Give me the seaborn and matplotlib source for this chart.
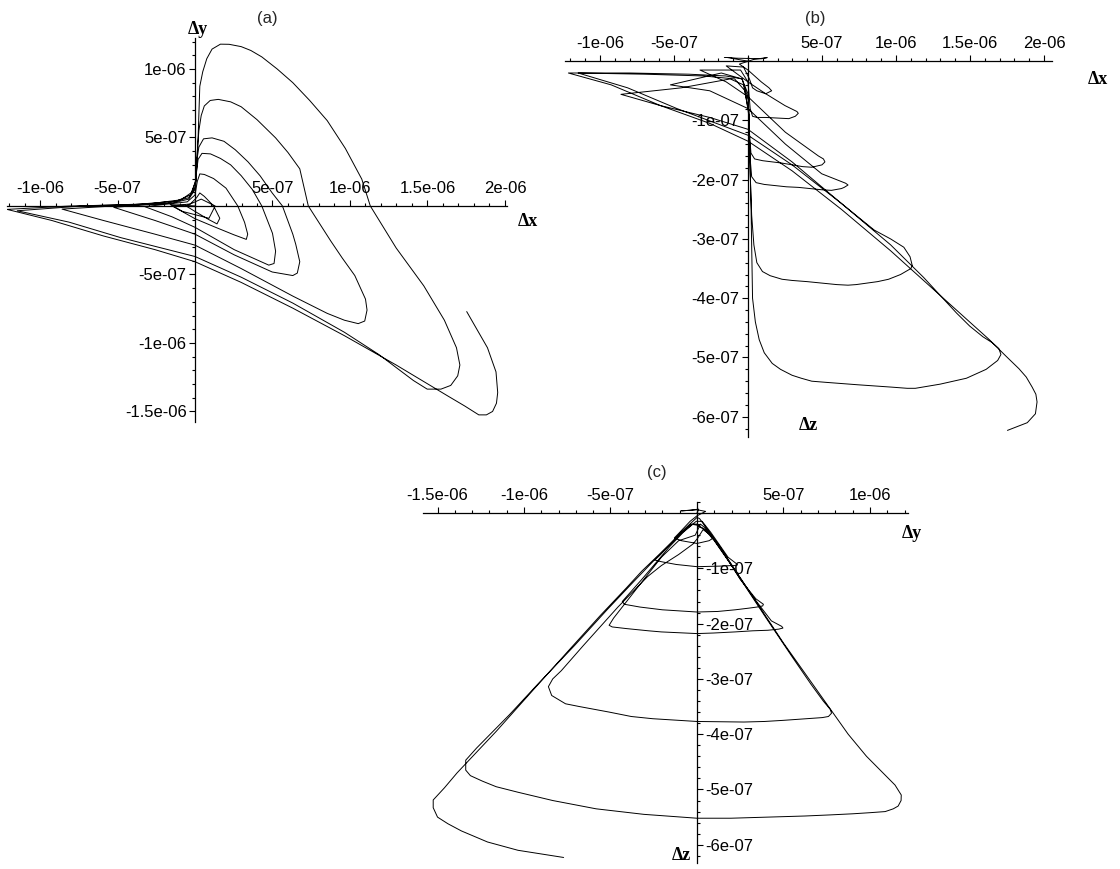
import numpy as np
import pandas as pd
import matplotlib
matplotlib.use("Agg")
import matplotlib.pyplot as plt
import matplotlib.ticker as mticker
import seaborn as sns

# ----- Trajectory (dx, dy, dz), in units of 1e-7 -----
UNIT = 1e-7

loop_start = [
    (0.0, 0.0, 0.0), (-1.6, 0.1, 0.07), (-0.8, -0.4, 0.05), (0.9, -0.9, 0.04),
    (1.3, 0.0, 0.06), (0.4, 0.5, 0.03), (-0.58, 0.0, -0.05),
]
loop_0 = [
    (-0.58, 0.0, -0.05), (0.0, -0.4, -0.15), (0.9, -1.0, -0.35), (1.42, -1.31, -0.45),
    (1.6, -0.9, -0.5), (1.2, 0.0, -0.55), (0.6, 0.7, -0.5), (0.31, 0.95, -0.45),
    (0.1, 0.6, -0.3), (-0.3, 0.15, -0.1), (-1.47, 0.0, -0.08),
]
loop_1 = [
    (-1.47, 0.0, -0.08), (0.0, -0.93, -0.35), (1.2, -1.5, -0.55), (2.5, -2.1, -0.75),
    (3.31, -2.44, -0.85), (3.4, -2.06, -0.88), (3.2, -1.2, -0.93), (2.76, 0.0, -0.97),
    (2.0, 1.3, -0.96), (1.2, 2.0, -0.95), (0.6, 2.3, -0.95), (0.31, 2.34, -0.93),
    (0.15, 1.8, -0.8), (0.0, 0.8, -0.35), (-0.5, 0.3, -0.15), (-3.24, -0.05, -0.15),
]
loop_2 = [
    (-3.24, -0.05, -0.15), (-1.47, -0.8, -0.35), (0.0, -1.56, -0.6), (2.53, -3.19, -1.2),
    (4.76, -4.32, -1.6), (5.1, -4.2, -1.65), (5.2, -3.3, -1.7), (5.0, -2.0, -1.75),
    (4.31, 0.0, -1.79), (3.7, 1.2, -1.78), (2.98, 2.21, -1.75), (2.3, 3.0, -1.72),
    (1.64, 3.47, -1.7), (1.0, 3.8, -1.68), (0.45, 3.84, -1.65), (0.2, 3.4, -1.55),
    (0.1, 2.5, -1.2), (0.03, 1.4, -0.65), (-0.4, 0.6, -0.3), (-1.8, 0.2, -0.2),
    (-5.24, -0.1, -0.4),
]
loop_3 = [
    (-5.24, -0.1, -0.4), (-2.58, -1.06, -0.5), (0.0, -2.06, -0.8), (2.53, -3.57, -1.4),
    (4.98, -4.82, -1.9), (6.31, -5.08, -2.03), (6.6, -4.9, -2.06), (6.76, -4.07, -2.09),
    (6.5, -2.8, -2.13), (6.31, -2.06, -2.15), (5.64, 0.0, -2.18), (4.98, 0.95, -2.17),
    (4.2, 2.2, -2.15), (3.42, 3.22, -2.13), (2.6, 4.1, -2.12), (1.87, 4.72, -2.1),
    (1.1, 4.97, -2.08), (0.55, 4.9, -2.05), (0.25, 4.3, -1.95), (0.1, 3.2, -1.5),
    (0.05, 1.8, -0.85), (-0.3, 0.8, -0.4), (-1.2, 0.35, -0.3), (-4.5, 0.05, -0.45),
    (-8.58, -0.23, -0.56),
]
loop_4 = [
    (-8.58, -0.23, -0.56), (-5.91, -1.06, -0.75), (-2.58, -2.06, -0.95), (0.0, -2.86, -1.15),
    (2.98, -4.57, -1.7), (6.31, -6.58, -2.4), (8.53, -7.84, -2.85), (9.64, -8.34, -3.0),
    (10.53, -8.59, -3.14), (10.95, -8.4, -3.3), (11.1, -7.6, -3.45), (11.0, -6.8, -3.5),
    (10.31, -5.08, -3.6), (9.5, -3.8, -3.68), (8.76, -2.56, -3.72), (7.31, 0.0, -3.77),
    (6.76, 2.71, -3.78), (6.0, 3.9, -3.77), (5.2, 4.97, -3.75), (4.0, 6.3, -3.72),
    (2.98, 7.24, -3.7), (2.3, 7.6, -3.68), (1.5, 7.78, -3.62), (0.98, 7.7, -3.55),
    (0.6, 7.3, -3.4), (0.4, 6.6, -3.1), (0.25, 5.5, -2.6), (0.15, 4.0, -1.9),
    (0.08, 2.0, -0.95), (-0.2, 1.0, -0.5), (-0.9, 0.45, -0.3), (-3.0, 0.15, -0.25),
    (-7.0, 0.02, -0.22), (-11.47, -0.35, -0.2),
]
loop_5 = [
    (-11.47, -0.35, -0.2), (-8.13, -1.18, -0.45), (-4.8, -2.31, -0.8), (0.0, -3.69, -1.25),
    (2.98, -5.2, -1.75), (6.31, -7.09, -2.4), (9.64, -9.22, -3.1), (11.87, -10.85, -3.65),
    (14.09, -12.74, -4.25), (14.98, -13.37, -4.47), (15.87, -13.37, -4.65), (16.5, -13.1, -4.75),
    (16.95, -12.4, -4.85), (17.09, -11.61, -4.95), (16.87, -10.35, -5.05), (16.09, -8.34, -5.2),
    (14.76, -5.83, -5.35), (12.98, -3.07, -5.45), (11.31, 0.0, -5.52), (10.76, 1.96, -5.52),
    (9.7, 4.2, -5.5), (8.53, 6.23, -5.48), (7.4, 7.7, -5.46), (6.31, 9.0, -5.44),
    (5.3, 10.0, -5.42), (4.31, 10.88, -5.4), (3.6, 11.35, -5.35), (2.98, 11.63, -5.3),
    (2.2, 11.8, -5.2), (1.64, 11.81, -5.1), (1.1, 11.45, -4.92), (0.76, 10.75, -4.7),
    (0.5, 9.8, -4.4), (0.31, 8.74, -4.0), (0.2, 5.0, -2.35), (0.09, 2.46, -1.15),
    (0.0, 1.2, -0.55), (-0.4, 0.5, -0.3), (-1.5, 0.2, -0.25), (-4.0, 0.08, -0.22),
    (-8.0, 0.0, -0.2), (-12.13, -0.25, -0.2),
]
loop_end = [
    (-12.13, -0.25, -0.2), (-9.24, -1.06, -0.4), (-5.91, -2.19, -0.75), (-2.58, -3.19, -1.05),
    (0.0, -4.07, -1.35), (2.98, -5.58, -1.85), (6.31, -7.46, -2.5), (9.64, -9.47, -3.2),
    (12.98, -11.61, -3.95), (16.31, -13.87, -4.7), (17.4, -14.6, -4.97), (18.31, -15.25, -5.19),
    (18.8, -15.25, -5.33), (19.2, -15.0, -5.5), (19.45, -14.4, -5.62), (19.53, -13.62, -5.75),
    (19.42, -12.11, -5.95), (18.87, -10.35, -6.1), (17.53, -7.71, -6.23),
]

loops = [loop_start, loop_0, loop_1, loop_2, loop_3, loop_4, loop_5, loop_end]
traj = pd.DataFrame(np.vstack(loops) * UNIT, columns=["dx", "dy", "dz"])

# ----- Figure ------------------------------------------------------------
sns.set_theme(style="white")
plt.rcParams["font.family"] = ["Liberation Sans", "DejaVu Sans"]

W, H = 1120, 869
fig = plt.figure(figsize=(W / 100, H / 100), dpi=100)
fig.patch.set_facecolor("white")


def add_panel(left, top, right, bottom):
    ax = fig.add_axes([left / W, 1 - bottom / H, (right - left) / W, (bottom - top) / H])
    ax.patch.set_alpha(0)
    return ax


def maple_fmt(v, pos):
    return "" if abs(v) < 1e-12 else f"{v:g}"


def style_axes(ax, xlim, ylim, ymajor, yminor, yside="left"):
    ax.set_xlim(*xlim)
    ax.set_ylim(*ylim)
    ax.set_xlabel("")
    ax.set_ylabel("")
    other = "right" if yside == "left" else "left"
    ax.spines["bottom"].set_visible(False)
    ax.spines[other].set_visible(False)
    ax.spines["top"].set_position(("data", 0))
    ax.spines[yside].set_position(("data", 0))
    for s in ("top", yside):
        ax.spines[s].set_color("black")
        ax.spines[s].set_linewidth(0.9)
    ax.xaxis.set_ticks_position("top")
    ax.yaxis.set_ticks_position(yside)
    ax.xaxis.set_major_locator(mticker.MultipleLocator(5e-7))
    ax.xaxis.set_minor_locator(mticker.MultipleLocator(1e-7))
    ax.yaxis.set_major_locator(mticker.MultipleLocator(ymajor))
    ax.yaxis.set_minor_locator(mticker.MultipleLocator(yminor))
    ax.xaxis.set_major_formatter(mticker.FuncFormatter(maple_fmt))
    ax.yaxis.set_major_formatter(mticker.FuncFormatter(maple_fmt))
    ax.tick_params(which="major", direction="out", length=4, width=0.8,
                   color="black", labelsize=12, labelcolor="black", pad=2)
    ax.tick_params(which="minor", direction="out", length=2, width=0.8, color="black")
    ax.tick_params(axis="x", pad=3)
    ax.grid(False)


line_kw = dict(sort=False, estimator=None, color="black", linewidth=0.7)

# (a) dx - dy
ax_a = add_panel(7, 38, 507, 422)
sns.lineplot(data=traj, x="dx", y="dy", ax=ax_a, **line_kw)
style_axes(ax_a, (-12.13e-7, 20.13e-7), (-15.77e-7, 12.26e-7), 5e-7, 1e-7)

# (b) dx - dz
ax_b = add_panel(565, 57, 1052, 437.5)
sns.lineplot(data=traj, x="dx", y="dz", ax=ax_b, **line_kw)
style_axes(ax_b, (-12.36e-7, 20.54e-7), (-6.35e-7, 0.07e-7), 1e-7, 2e-8)

# (c) dy - dz
ax_c = add_panel(423, 502, 908, 863)
sns.lineplot(data=traj, x="dy", y="dz", ax=ax_c, **line_kw)
style_axes(ax_c, (-15.84e-7, 12.2e-7), (-6.33e-7, 0.2e-7), 1e-7, 2e-8, yside="right")


def put(x, y, s, **kw):
    fig.text(x / W, 1 - y / H, s, **kw)


lab = dict(fontsize=13, fontweight="bold", family=["Liberation Serif", "DejaVu Serif"],
           va="center", ha="left", color="black")
put(267, 18, "(a)", fontsize=12, ha="center", va="center")
put(815, 18, "(b)", fontsize=12, ha="center", va="center")
put(657, 473, "(c)", fontsize=12, ha="center", va="center")
put(188, 30, "Δy", **lab)
put(518, 222, "Δx", **lab)
put(1088, 80, "Δx", **lab)
put(799, 426, "Δz", **lab)
put(902, 533, "Δy", **lab)
put(672, 855, "Δz", **lab)

fig.savefig("out.png", dpi=100)
